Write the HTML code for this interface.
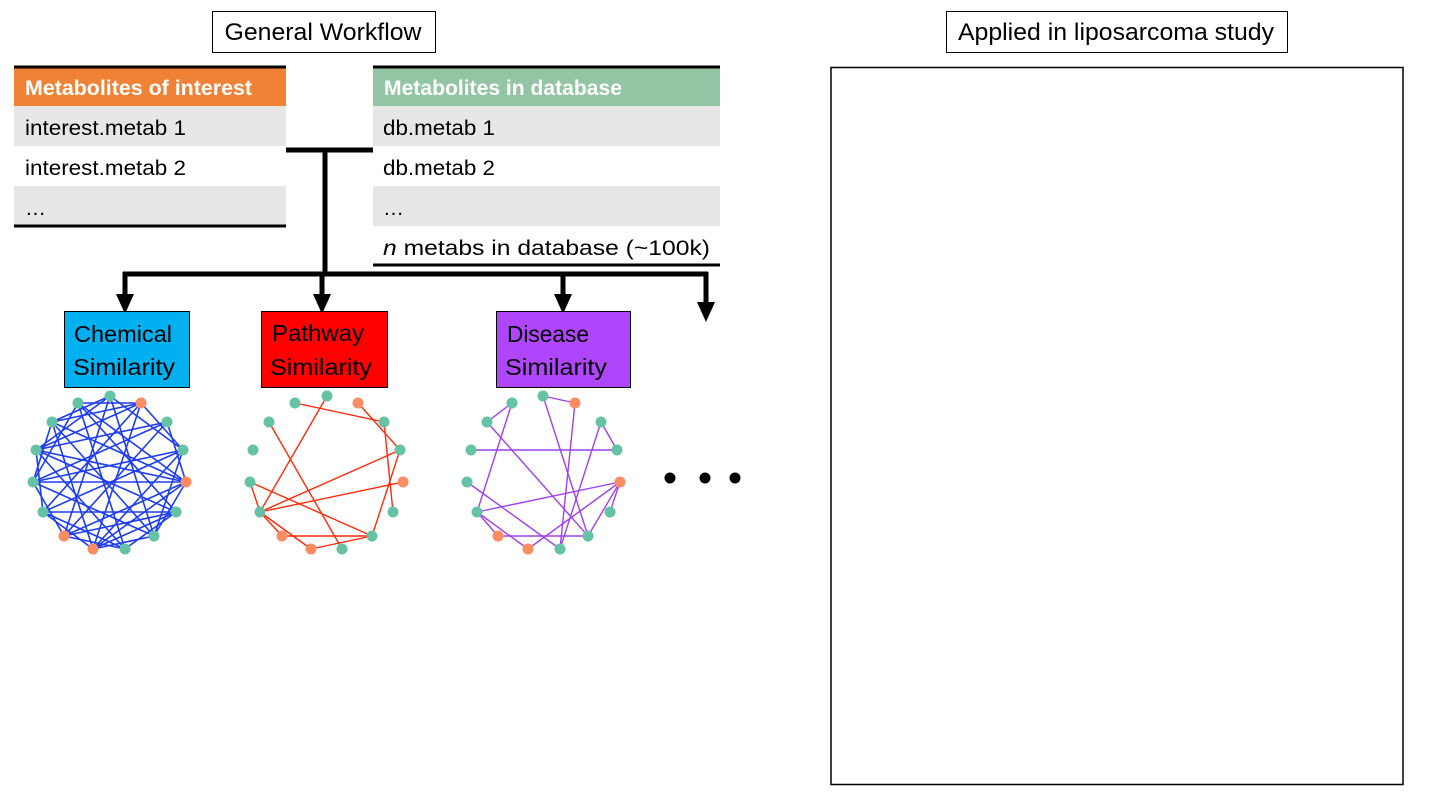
<!DOCTYPE html>
<html><head><meta charset="utf-8"><style>
body{margin:0;background:#fff;width:1440px;height:810px;overflow:hidden;font-family:"Liberation Sans",sans-serif}
svg{position:absolute;left:0;top:0}
text{font-family:"Liberation Sans",sans-serif}
</style></head><body>
<svg width="1440" height="810" viewBox="0 0 1440 810">
<rect x="212.5" y="11.5" width="223" height="41" fill="#fff" stroke="#000"/>
<text x="323" y="40" font-size="24" text-anchor="middle" textLength="197" lengthAdjust="spacingAndGlyphs">General Workflow</text>
<rect x="946.5" y="11.5" width="341" height="41" fill="#fff" stroke="#000"/>
<text x="1116" y="40" font-size="24" text-anchor="middle" textLength="316" lengthAdjust="spacingAndGlyphs">Applied in liposarcoma study</text>
<rect x="831" y="67.5" width="572" height="717" fill="#fff" stroke="#000" stroke-width="1.5"/>

<rect x="14" y="68" width="272" height="38" fill="#f08236"/>
<rect x="14" y="106" width="272" height="40" fill="#e7e7e7"/>
<rect x="14" y="186" width="272" height="40" fill="#e7e7e7"/>
<line x1="14" y1="67" x2="286" y2="67" stroke="#000" stroke-width="3"/>
<line x1="14" y1="226" x2="286" y2="226" stroke="#000" stroke-width="3"/>
<text x="25" y="95" font-size="21" font-weight="bold" fill="#fff" textLength="227" lengthAdjust="spacingAndGlyphs">Metabolites of interest</text>
<text x="25" y="135" font-size="21" textLength="161" lengthAdjust="spacingAndGlyphs">interest.metab 1</text>
<text x="25" y="175" font-size="21" textLength="161" lengthAdjust="spacingAndGlyphs">interest.metab 2</text>
<text x="25" y="215" font-size="21">…</text>

<rect x="373" y="68" width="347" height="38" fill="#93c4a3"/>
<rect x="373" y="106" width="347" height="40" fill="#e7e7e7"/>
<rect x="373" y="186" width="347" height="40" fill="#e7e7e7"/>
<line x1="373" y1="67" x2="720" y2="67" stroke="#000" stroke-width="3"/>
<line x1="373" y1="265" x2="720" y2="265" stroke="#000" stroke-width="3"/>
<text x="384" y="95" font-size="21" font-weight="bold" fill="#fff" textLength="238" lengthAdjust="spacingAndGlyphs">Metabolites in database</text>
<text x="383" y="135" font-size="21" textLength="112" lengthAdjust="spacingAndGlyphs">db.metab 1</text>
<text x="383" y="175" font-size="21" textLength="112" lengthAdjust="spacingAndGlyphs">db.metab 2</text>
<text x="383" y="215" font-size="21">…</text>
<text x="383" y="255" font-size="21" textLength="327" lengthAdjust="spacingAndGlyphs"><tspan font-style="italic">n</tspan> metabs in database (~100k)</text>

<g stroke="#000" stroke-width="5" fill="none">
<line x1="286" y1="150" x2="373" y2="150"/>
<line x1="325" y1="150" x2="325" y2="274"/>
<line x1="123" y1="274" x2="708" y2="274"/>
<line x1="125" y1="272" x2="125" y2="296"/>
<line x1="322" y1="272" x2="322" y2="296"/>
<line x1="563" y1="272" x2="563" y2="296"/>
<line x1="706" y1="272" x2="706" y2="304"/>
</g>
<g fill="#000">
<polygon points="116,294 134,294 125,314"/>
<polygon points="313,294 331,294 322,314"/>
<polygon points="554,294 572,294 563,314"/>
<polygon points="697,302 715,302 706,322"/>
</g>

<rect x="64.5" y="311.5" width="125" height="76" fill="#00b0f0" stroke="#000"/>
<text x="74" y="342" font-size="23" textLength="98" lengthAdjust="spacingAndGlyphs">Chemical</text>
<text x="73" y="375" font-size="23" textLength="102" lengthAdjust="spacingAndGlyphs">Similarity</text>
<rect x="261.5" y="311.5" width="126" height="76" fill="#ff0000" stroke="#000"/>
<text x="272" y="341" font-size="23" textLength="92" lengthAdjust="spacingAndGlyphs">Pathway</text>
<text x="270" y="375" font-size="23" textLength="102" lengthAdjust="spacingAndGlyphs">Similarity</text>
<rect x="496.5" y="311.5" width="134" height="76" fill="#b046fc" stroke="#000"/>
<text x="507" y="342" font-size="23" textLength="82" lengthAdjust="spacingAndGlyphs">Disease</text>
<text x="505" y="375" font-size="23" textLength="102" lengthAdjust="spacingAndGlyphs">Similarity</text>

<circle cx="670" cy="478" r="5.5" fill="#000"/>
<circle cx="705" cy="478" r="5.5" fill="#000"/>
<circle cx="735" cy="478" r="5.5" fill="#000"/>

<g stroke="#1f3df0" stroke-width="1.6">
<line x1="110" y1="396" x2="52" y2="422"/><line x1="110" y1="396" x2="36" y2="450"/><line x1="110" y1="396" x2="154" y2="536"/><line x1="110" y1="396" x2="183" y2="450"/><line x1="110" y1="396" x2="64" y2="536"/>
<line x1="78" y1="403" x2="141" y2="403"/><line x1="78" y1="403" x2="176" y2="512"/><line x1="78" y1="403" x2="186" y2="482"/><line x1="78" y1="403" x2="33" y2="482"/><line x1="78" y1="403" x2="125" y2="549"/>
<line x1="141" y1="403" x2="36" y2="450"/><line x1="141" y1="403" x2="43" y2="512"/><line x1="141" y1="403" x2="183" y2="450"/><line x1="141" y1="403" x2="52" y2="422"/>
<line x1="52" y1="422" x2="186" y2="482"/><line x1="52" y1="422" x2="154" y2="536"/><line x1="52" y1="422" x2="33" y2="482"/><line x1="52" y1="422" x2="93" y2="549"/>
<line x1="167" y1="422" x2="33" y2="482"/><line x1="167" y1="422" x2="64" y2="536"/><line x1="167" y1="422" x2="186" y2="482"/><line x1="167" y1="422" x2="36" y2="450"/>
<line x1="36" y1="450" x2="176" y2="512"/><line x1="36" y1="450" x2="125" y2="549"/><line x1="36" y1="450" x2="43" y2="512"/><line x1="36" y1="450" x2="186" y2="482"/>
<line x1="183" y1="450" x2="43" y2="512"/><line x1="183" y1="450" x2="93" y2="549"/><line x1="183" y1="450" x2="154" y2="536"/><line x1="183" y1="450" x2="33" y2="482"/>
<line x1="33" y1="482" x2="186" y2="482"/><line x1="33" y1="482" x2="154" y2="536"/><line x1="33" y1="482" x2="64" y2="536"/>
<line x1="186" y1="482" x2="64" y2="536"/><line x1="186" y1="482" x2="93" y2="549"/><line x1="186" y1="482" x2="154" y2="536"/>
<line x1="43" y1="512" x2="176" y2="512"/><line x1="43" y1="512" x2="125" y2="549"/><line x1="43" y1="512" x2="93" y2="549"/>
<line x1="176" y1="512" x2="64" y2="536"/><line x1="176" y1="512" x2="125" y2="549"/><line x1="176" y1="512" x2="93" y2="549"/>
<line x1="64" y1="536" x2="125" y2="549"/><line x1="154" y1="536" x2="93" y2="549"/><line x1="141" y1="403" x2="93" y2="549"/>
</g>
<g fill="#66c2a5">
<circle cx="110" cy="396" r="5.5"/><circle cx="78" cy="403" r="5.5"/><circle cx="52" cy="422" r="5.5"/><circle cx="167" cy="422" r="5.5"/><circle cx="36" cy="450" r="5.5"/><circle cx="183" cy="450" r="5.5"/><circle cx="33" cy="482" r="5.5"/><circle cx="43" cy="512" r="5.5"/><circle cx="176" cy="512" r="5.5"/><circle cx="154" cy="536" r="5.5"/><circle cx="125" cy="549" r="5.5"/>
</g>
<g fill="#fc8d62"><circle cx="141" cy="403" r="5.5"/><circle cx="186" cy="482" r="5.5"/><circle cx="64" cy="536" r="5.5"/><circle cx="93" cy="549" r="5.5"/></g>

<g stroke="#ff2a0a" stroke-width="1.4">
<line x1="295" y1="403" x2="384" y2="422"/><line x1="358" y1="403" x2="400" y2="450"/><line x1="384" y1="422" x2="393" y2="512"/><line x1="327" y1="396" x2="260" y2="512"/><line x1="269" y1="422" x2="342" y2="549"/><line x1="400" y1="450" x2="260" y2="512"/><line x1="403" y1="482" x2="260" y2="512"/><line x1="250" y1="482" x2="372" y2="536"/><line x1="400" y1="450" x2="372" y2="536"/><line x1="260" y1="512" x2="311" y2="549"/><line x1="260" y1="512" x2="282" y2="536"/><line x1="282" y1="536" x2="372" y2="536"/><line x1="311" y1="549" x2="372" y2="536"/><line x1="250" y1="482" x2="260" y2="512"/>
</g>
<g fill="#66c2a5">
<circle cx="327" cy="396" r="5.5"/><circle cx="295" cy="403" r="5.5"/><circle cx="269" cy="422" r="5.5"/><circle cx="384" cy="422" r="5.5"/><circle cx="253" cy="450" r="5.5"/><circle cx="400" cy="450" r="5.5"/><circle cx="250" cy="482" r="5.5"/><circle cx="260" cy="512" r="5.5"/><circle cx="393" cy="512" r="5.5"/><circle cx="372" cy="536" r="5.5"/><circle cx="342" cy="549" r="5.5"/>
</g>
<g fill="#fc8d62"><circle cx="358" cy="403" r="5.5"/><circle cx="403" cy="482" r="5.5"/><circle cx="282" cy="536" r="5.5"/><circle cx="311" cy="549" r="5.5"/></g>

<g stroke="#a040ee" stroke-width="1.4">
<line x1="543" y1="396" x2="575" y2="403"/><line x1="512" y1="403" x2="487" y2="422"/><line x1="512" y1="403" x2="477" y2="512"/><line x1="487" y1="422" x2="588" y2="536"/><line x1="471" y1="450" x2="617" y2="450"/><line x1="601" y1="422" x2="617" y2="450"/><line x1="601" y1="422" x2="560" y2="549"/><line x1="575" y1="403" x2="560" y2="549"/><line x1="543" y1="396" x2="588" y2="536"/><line x1="467" y1="482" x2="560" y2="549"/><line x1="620" y1="482" x2="477" y2="512"/><line x1="620" y1="482" x2="610" y2="512"/><line x1="620" y1="482" x2="588" y2="536"/><line x1="620" y1="482" x2="528" y2="549"/><line x1="477" y1="512" x2="498" y2="536"/><line x1="477" y1="512" x2="528" y2="549"/><line x1="498" y1="536" x2="588" y2="536"/>
</g>
<g fill="#66c2a5">
<circle cx="543" cy="396" r="5.5"/><circle cx="512" cy="403" r="5.5"/><circle cx="487" cy="422" r="5.5"/><circle cx="601" cy="422" r="5.5"/><circle cx="471" cy="450" r="5.5"/><circle cx="617" cy="450" r="5.5"/><circle cx="467" cy="482" r="5.5"/><circle cx="477" cy="512" r="5.5"/><circle cx="610" cy="512" r="5.5"/><circle cx="588" cy="536" r="5.5"/><circle cx="560" cy="549" r="5.5"/>
</g>
<g fill="#fc8d62"><circle cx="575" cy="403" r="5.5"/><circle cx="620" cy="482" r="5.5"/><circle cx="498" cy="536" r="5.5"/><circle cx="528" cy="549" r="5.5"/></g>
</svg>
</body></html>
